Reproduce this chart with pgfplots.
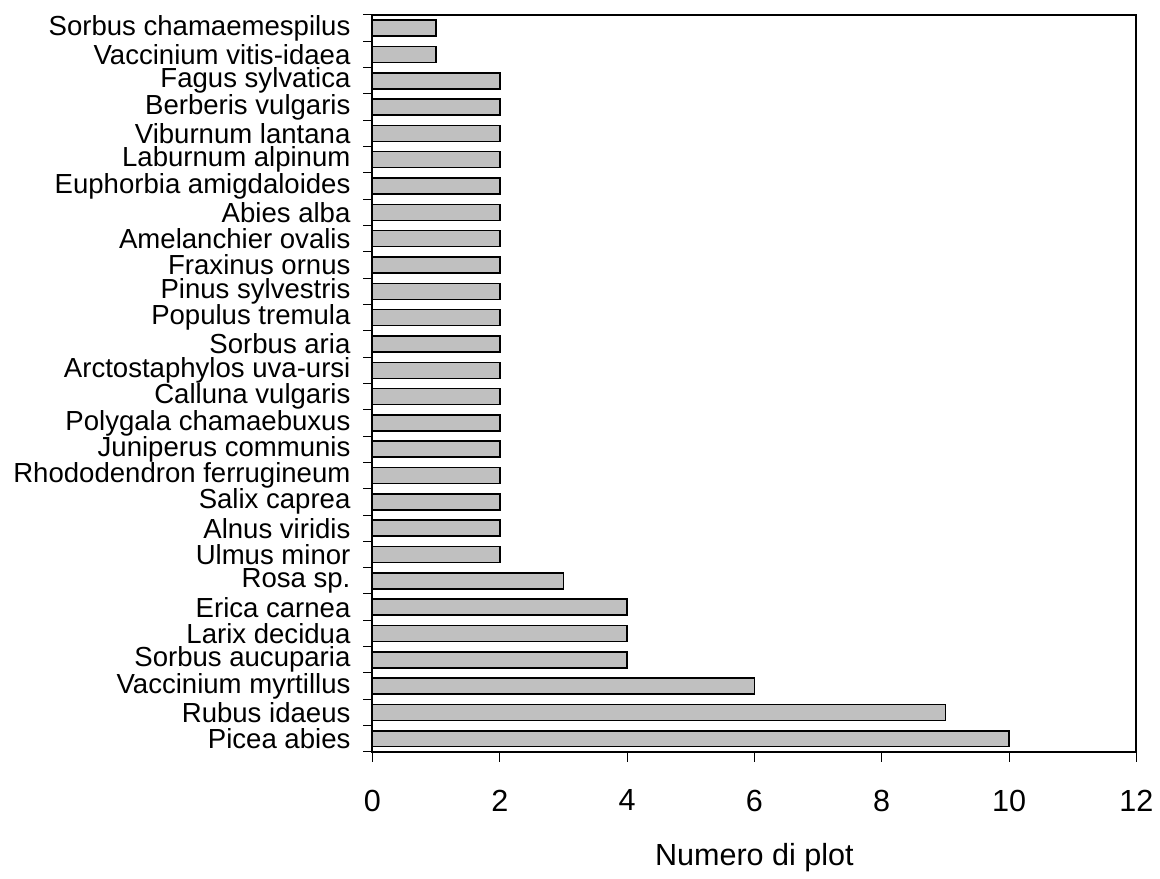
\documentclass[border=0pt]{standalone}
\usepackage{fontspec}
\setmainfont{Liberation Sans}
\usepackage{pgfplots}
\pgfplotsset{compat=1.18}
\begin{document}
\begin{tikzpicture}[x=1pt,y=1pt]
\begin{axis}[
  scale only axis,
  width=382.5pt, height=369pt,
  xbar, bar width=8pt,
  xmin=0, xmax=12, ymin=0.5, ymax=28.5,
  xtick={0,2,...,12},
  ytick={1,...,28},
  yticklabels={Picea abies,Rubus idaeus,Vaccinium myrtillus,Sorbus aucuparia,Larix decidua,Erica carnea,Rosa sp.,Ulmus minor,Alnus viridis,Salix caprea,Rhododendron ferrugineum,Juniperus communis,Polygala chamaebuxus,Calluna vulgaris,Arctostaphylos uva-ursi,Sorbus aria,Populus tremula,Pinus sylvestris,Fraxinus ornus,Amelanchier ovalis,Abies alba,Euphorbia amigdaloides,Laburnum alpinum,Viburnum lantana,Berberis vulgaris,Fagus sylvatica,Vaccinium vitis-idaea,Sorbus chamaemespilus},
  minor ytick={0.5,1.5,...,28.5},
  major y tick style={draw=none},
  minor y tick style={draw=black, line width=0.5pt},
  major x tick style={draw=black, line width=0.5pt},
  tick align=outside,
  major tick length=5pt, minor tick length=4.5pt,
  xtick pos=bottom, ytick pos=left,
  axis line style={line width=1pt},
  /pgf/number format/assume math mode=true,
  xticklabel style={font=\fontsize{15.3}{18}\selectfont, yshift=-10.5pt},
  yticklabel style={font=\fontsize{13.8}{16}\selectfont, xshift=-2.5pt},
  xlabel={Numero di plot},
  xlabel style={font=\fontsize{15.3}{18}\selectfont, yshift=-9pt},
  clip=false,
]
\addplot[fill={rgb,255:red,192;green,192;blue,192}, draw=black, line width=0.75pt] coordinates {
(10,1) (9,2) (6,3) (4,4) (4,5) (4,6) (3,7) (2,8) (2,9) (2,10) (2,11) (2,12) (2,13) (2,14) (2,15) (2,16) (2,17) (2,18) (2,19) (2,20) (2,21) (2,22) (2,23) (2,24) (2,25) (2,26) (1,27) (1,28)
};
\coordinate (bl) at (rel axis cs:0,0);
\coordinate (tr) at (rel axis cs:1,1);
\end{axis}
\path (bl) ++(-186.5pt,-61pt) coordinate (BBl);
\path (tr) ++(11pt,7.5pt) coordinate (BBr);
\path (BBl) rectangle (BBr);
\end{tikzpicture}
\end{document}
